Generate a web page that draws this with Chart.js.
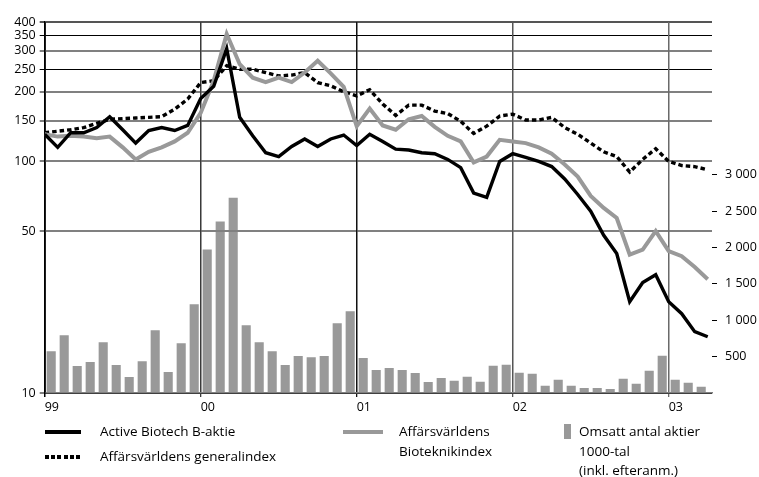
<!DOCTYPE html>
<html>
<head>
<meta charset="utf-8">
<script src="https://cdn.jsdelivr.net/npm/chart.js@4/dist/chart.umd.min.js"></script>
<style>
html,body{margin:0;padding:0;background:#fff;}
#wrap{position:relative;width:759px;height:477px;overflow:hidden;}
canvas{position:absolute;left:0;top:0;}
.lg{position:absolute;font-family:"Open Sans",sans-serif;font-size:13.5px;line-height:19.5px;color:#000;white-space:nowrap;}
.sw{position:absolute;}
</style>
</head>
<body>
<div id="wrap">
<canvas id="c" width="759" height="477"></canvas>
<div class="sw" style="left:45px;top:430px;width:36px;height:3.5px;background:#000"></div>
<div class="lg" style="left:100px;top:422px">Active Biotech B-aktie</div>
<div class="sw" style="left:45px;top:455px;width:36px;height:3.5px;background:repeating-linear-gradient(90deg,#000 0 4px,transparent 4px 6.2px)"></div>
<div class="lg" style="left:100px;top:447px">Affärsvärldens generalindex</div>
<div class="sw" style="left:343px;top:430px;width:40px;height:4px;background:#999"></div>
<div class="lg" style="left:399px;top:422px">Affärsvärldens<br>Bioteknikindex</div>
<div class="sw" style="left:564px;top:424px;width:7px;height:15px;background:#999"></div>
<div class="lg" style="left:579px;top:422px">Omsatt antal aktier<br>1000-tal<br>(inkl. efteranm.)</div>
</div>
<script>
// ---- data (monthly, Jan 1999 .. Apr 2003) ----
const yearLabels = ['99', '00', '01', '02', '03'];
const yearTickMonths = [0, 12, 24, 36, 48];
const leftTicks = [10, 50, 100, 150, 200, 250, 300, 350, 400];
const rightTicks = [500, 1000, 1500, 2000, 2500, 3000];

const activeBiotech = [131,115,133,133,140,156,137,120,136,140,136,143,
  187,211,307,155,129,109,105,116,125,116,125,130,
  117,131,122,113,112,109,108,102,94,73,70,100,
  108,104,100,95,84,72,61,48,40,24.8,30,32.4,
  24.8,22,18.4,17.5];
const bioteknikIndex = [131,128,129,128,126,128,115,102,110,115,122,133,
  162,223,355,263,230,220,230,220,242,272,240,210,
  142,169,143,137,152,157,141,129,122,99,105,124,
  122,120,115,108,97,86,71,63,57,39.6,41.6,50,
  41,39,35,31];
const generalIndex = [133,135,137,140,146,152,153,154,155,156,168,186,
  219,223,259,250,250,242,234,236,242,219,212,200,
  192,204,177,158,175,175,165,161,149,132,142,157,
  160,151,151,155,140,131,120,110,105,90,102,113.5,
  100,96,95,92];
const volume = [575,795,370,425,699,384,219,438,863,288,685,1219,
  1973,2356,2685,932,699,575,384,507,493,507,959,1123,
  480,315,343,315,274,151,206,168,223,155,374,388,
  278,264,100,182,100,68,68,55,196,127,306,511,
  182,141,86];

const pts = arr => arr.map((v, i) => ({x: i, y: v}));
const barPts = arr => arr.map((v, i) => ({x: i + 0.5, y: v}));
const fmtSpace = v => String(v).replace(/\B(?=(\d{3})+(?!\d))/g, ' ');

Chart.defaults.font.family = '"Open Sans", sans-serif';
Chart.defaults.font.size = 12.5;
Chart.defaults.color = '#000';

const gridOverBars = {
  id: 'gridOverBars',
  afterDatasetDraw(chart, args) {
    if (args.index !== 0) return;
    const a = chart.chartArea, ctx = chart.ctx;
    ctx.save();
    ctx.beginPath();
    ctx.rect(a.left, a.top - 2, a.right - a.left, a.bottom - a.top + 2);
    ctx.clip();
    chart.scales.y.drawGrid(a);
    chart.scales.x.drawGrid(a);
    ctx.restore();
  }
};

new Chart(document.getElementById('c'), {
  type: 'line',
  data: {
    datasets: [
      {type: 'bar', data: barPts(volume), yAxisID: 'y2', xAxisID: 'x',
       backgroundColor: '#999999', borderWidth: 0, barPercentage: 0.7, categoryPercentage: 1, order: 10},
      {data: pts(activeBiotech), yAxisID: 'y', borderColor: '#000', borderWidth: 3.4,
       pointRadius: 0, tension: 0, fill: false, order: 0},
      {data: pts(generalIndex), yAxisID: 'y', borderColor: '#000', borderWidth: 3.4,
       borderDash: [4.5, 3], pointRadius: 0, tension: 0, fill: false, order: 2},
      {data: pts(bioteknikIndex), yAxisID: 'y', borderColor: '#999999', borderWidth: 4,
       pointRadius: 0, tension: 0, fill: false, order: 1}
    ]
  },
  options: {
    responsive: false,
    animation: false,
    events: [],
    layout: {padding: {top: 22, left: 0, right: 0, bottom: 0}},
    plugins: {legend: {display: false}, tooltip: {enabled: false}},
    scales: {
      x: {
        type: 'linear', min: 0, max: 51.33, offset: false,
        afterBuildTicks: s => { s.ticks = yearTickMonths.map(v => ({value: v})); },
        afterFit: s => { s.height = 84; },
        ticks: {align: 'start', padding: 3, autoSkip: false, maxRotation: 0,
                callback: (v, i) => yearLabels[i]},
        grid: {offset: false, tickLength: 4,
               color: c => ['#000', '#3a3a3a', '#111', '#555', '#6a6a6a'][c.index] || '#444',
               lineWidth: c => c.index === 0 ? 1.5 : 1.3},
        border: {display: true, color: '#000', width: 1.5}
      },
      y: {
        type: 'logarithmic', position: 'left', min: 10, max: 400,
        afterBuildTicks: s => { s.ticks = leftTicks.map(v => ({value: v})); },
        afterFit: s => { s.width = 44.7; },
        ticks: {autoSkip: false, padding: 4, callback: v => String(v)},
        grid: {tickLength: 5,
               color: c => (c.tick && (c.tick.value === 350 || c.tick.value === 250)) ? '#000' :
                           (c.tick && c.tick.value === 400 ? '#555' : '#808080'),
               lineWidth: c => (c.tick && (c.tick.value === 350 || c.tick.value === 250)) ? 1 : 2},
        border: {display: true, color: '#000', width: 1.5}
      },
      y2: {
        type: 'linear', position: 'right', min: 0, max: 5100,
        afterBuildTicks: s => { s.ticks = rightTicks.map(v => ({value: v})); },
        afterFit: s => { s.width = 47; },
        ticks: {autoSkip: false, padding: 8, callback: v => fmtSpace(v)},
        grid: {drawOnChartArea: false, tickLength: 5, tickColor: '#000', tickWidth: 1},
        border: {display: false}
      }
    }
  },
  plugins: [gridOverBars]
});
</script>
</body>
</html>
